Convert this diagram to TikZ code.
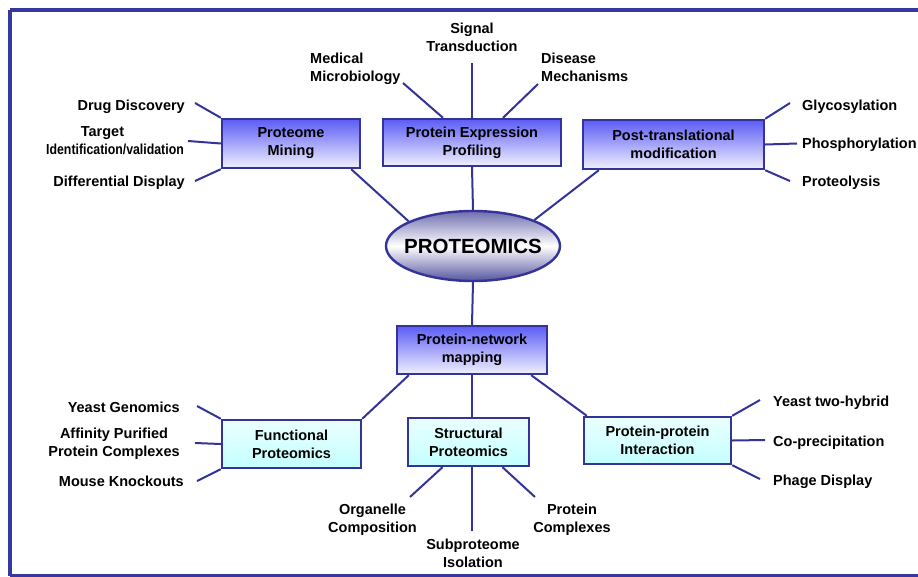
\documentclass[tikz,border=0pt]{standalone}
\usepackage{fontspec}
\setmainfont{Liberation Sans}
\usetikzlibrary{shapes.geometric,calc}
\definecolor{navy}{RGB}{51,51,153}
\definecolor{framecol}{RGB}{55,55,160}
\definecolor{boxtop}{RGB}{92,92,245}
\definecolor{boxbot}{RGB}{240,240,255}
\definecolor{cyantop}{RGB}{235,255,255}
\definecolor{cyanbot}{RGB}{195,255,255}
\definecolor{elltop}{RGB}{110,110,175}
\definecolor{ellbot}{RGB}{85,85,160}
\tikzset{
  lbl/.style={inner sep=0pt, font=\fontsize{14.5}{18}\selectfont\bfseries},
  bluebox/.style={draw=navy, line width=2.4pt, rectangle, top color=boxtop, bottom color=boxbot,
     align=center, inner sep=0pt, font=\fontsize{14.5}{18}\selectfont\bfseries},
  cyanbox/.style={draw=navy, line width=2.4pt, rectangle, top color=cyantop, bottom color=cyanbot,
     align=center, inner sep=0pt, font=\fontsize{14.5}{18}\selectfont\bfseries},
  conn/.style={draw=navy, line width=2pt}
}
\begin{document}
\begin{tikzpicture}[x=1pt,y=-1pt]
\useasboundingbox (0,0) rectangle (918,576);
\draw[framecol, line width=4pt] (10,10) -- (945,10) (10,10) -- (10,576) (10,575.5) -- (945,575.5);

% central ellipse
\node[ellipse, draw=navy, line width=2.4pt, minimum width=174pt, minimum height=70pt, inner sep=0pt,
  top color=elltop, bottom color=ellbot, middle color=white,
  font=\fontsize{20.5}{24}\selectfont\bfseries] (ell) at (473,246)
  {\makebox[0pt]{\raisebox{-7.3pt}[0pt][0pt]{PROTEOMICS}}};

% boxes
\node[bluebox, minimum width=138pt, minimum height=49pt] (pm) at (291,143.5) {Proteome\\Mining};
\node[bluebox, minimum width=178pt, minimum height=47pt] (pep) at (472,142.5) {Protein Expression\\Profiling};
\node[bluebox, minimum width=181pt, minimum height=49pt] (ptm) at (673.5,144.5) {Post-translational\\modification};
\node[bluebox, minimum width=150pt, minimum height=48pt] (pnm) at (472,350) {Protein-network\\mapping};
\node[cyanbox, minimum width=139pt, minimum height=48pt] (fp) at (291.5,444) {Functional\\Proteomics};
\node[cyanbox, minimum width=121pt, minimum height=48pt] (sp) at (468.5,442) {Structural\\Proteomics};
\node[cyanbox, minimum width=147pt, minimum height=47pt] (ppi) at (657.5,440.5) {Protein-protein\\Interaction};

% labels
\node[lbl, anchor=base east] (drug) at (185,110.5) {Drug Discovery};
\node[lbl, anchor=east, align=center] (target) at (184,141) {Target\hspace*{25pt}\\\scalebox{0.85}[1]{Identification/validation}};
\node[lbl, anchor=base east] (diff) at (185,186.5) {Differential Display};
\node[lbl, anchor=west, align=left] (med) at (310,69) {Medical\\Microbiology};
\node[lbl, align=center] (sig) at (472,37) {Signal\\Transduction};
\node[lbl, anchor=west, align=left] (dis) at (541,67) {Disease\\Mechanisms};
\node[lbl, anchor=base west] (gly) at (802,110.5) {Glycosylation};
\node[lbl, anchor=base west] (pho) at (802,148.5) {Phosphorylation};
\node[lbl, anchor=base west] (pro) at (802,186.5) {Proteolysis};
\node[lbl, anchor=base east] (yg) at (180,412.5) {Yeast Genomics};
\node[lbl, align=center] (aff) at (114,444) {Affinity Purified\\Protein Complexes};
\node[lbl, anchor=base east] (mk) at (184,486.5) {Mouse Knockouts};
\node[lbl, align=center] (org) at (372.5,519.5) {Organelle\\Composition};
\node[lbl, align=center] (sub) at (473,553) {Subproteome\\Isolation};
\node[lbl, align=center] (pc) at (572,519.5) {Protein\\Complexes};
\node[lbl, anchor=base west] (y2h) at (773,406.5) {Yeast two-hybrid};
\node[lbl, anchor=base west] (cop) at (773,446.5) {Co-precipitation};
\node[lbl, anchor=base west] (phd) at (773,485.5) {Phage Display};

% free ends
\coordinate (cDrug) at (195,103);
\coordinate (cTarget) at (188,141);
\coordinate (cDiff) at (195,181);
\coordinate (cMed) at (403,83);
\coordinate (cSig) at (472,63);
\coordinate (cDis) at (538,84);
\coordinate (cGly) at (790,103);
\coordinate (cPho) at (797,143.5);
\coordinate (cPro) at (790,181);
\coordinate (cYG) at (197,406);
\coordinate (cAff) at (195,443);
\coordinate (cMK) at (197,481);
\coordinate (cOrg) at (410,497);
\coordinate (cSub) at (472,531);
\coordinate (cPC) at (535,497);
\coordinate (cY2H) at (760,400);
\coordinate (cCop) at (765,440);
\coordinate (cPhd) at (760,479);

% connectors
\draw[conn] (pm.north west) -- (cDrug);
\draw[conn] (pm.west) -- (cTarget);
\draw[conn] (pm.south west) -- (cDiff);
\draw[conn] ($(pm.south east)+(-10,0)$) -- (ell.159);
\draw[conn] ($(pep.north)+(-29,0)$) -- (cMed);
\draw[conn] (pep.north) -- (cSig);
\draw[conn] ($(pep.north)+(31,0)$) -- (cDis);
\draw[conn] (pep.south) -- (ell.north);
\draw[conn] (ptm.north east) -- (cGly);
\draw[conn] (ptm.east) -- (cPho);
\draw[conn] (ptm.south east) -- (cPro);
\draw[conn] ($(ptm.south west)+(17,0)$) -- (ell.23);
\draw[conn] (ell.south) -- (pnm.north);
\draw[conn] ($(pnm.south west)+(13,0)$) -- (fp.north east);
\draw[conn] (pnm.south) -- (sp.north -| pnm.south);
\draw[conn] ($(pnm.south east)+(-17,0)$) -- ($(ppi.north west)+(4,0)$);
\draw[conn] (fp.north west) -- (cYG);
\draw[conn] (fp.west) -- (cAff);
\draw[conn] (fp.south west) -- (cMK);
\draw[conn] ($(sp.south)+(-26,0)$) -- (cOrg);
\draw[conn] (sp.south -| cSub) -- (cSub);
\draw[conn] ($(sp.south)+(34,0)$) -- (cPC);
\draw[conn] (ppi.north east) -- (cY2H);
\draw[conn] (ppi.east) -- (cCop);
\draw[conn] (ppi.south east) -- (cPhd);
\end{tikzpicture}
\end{document}
